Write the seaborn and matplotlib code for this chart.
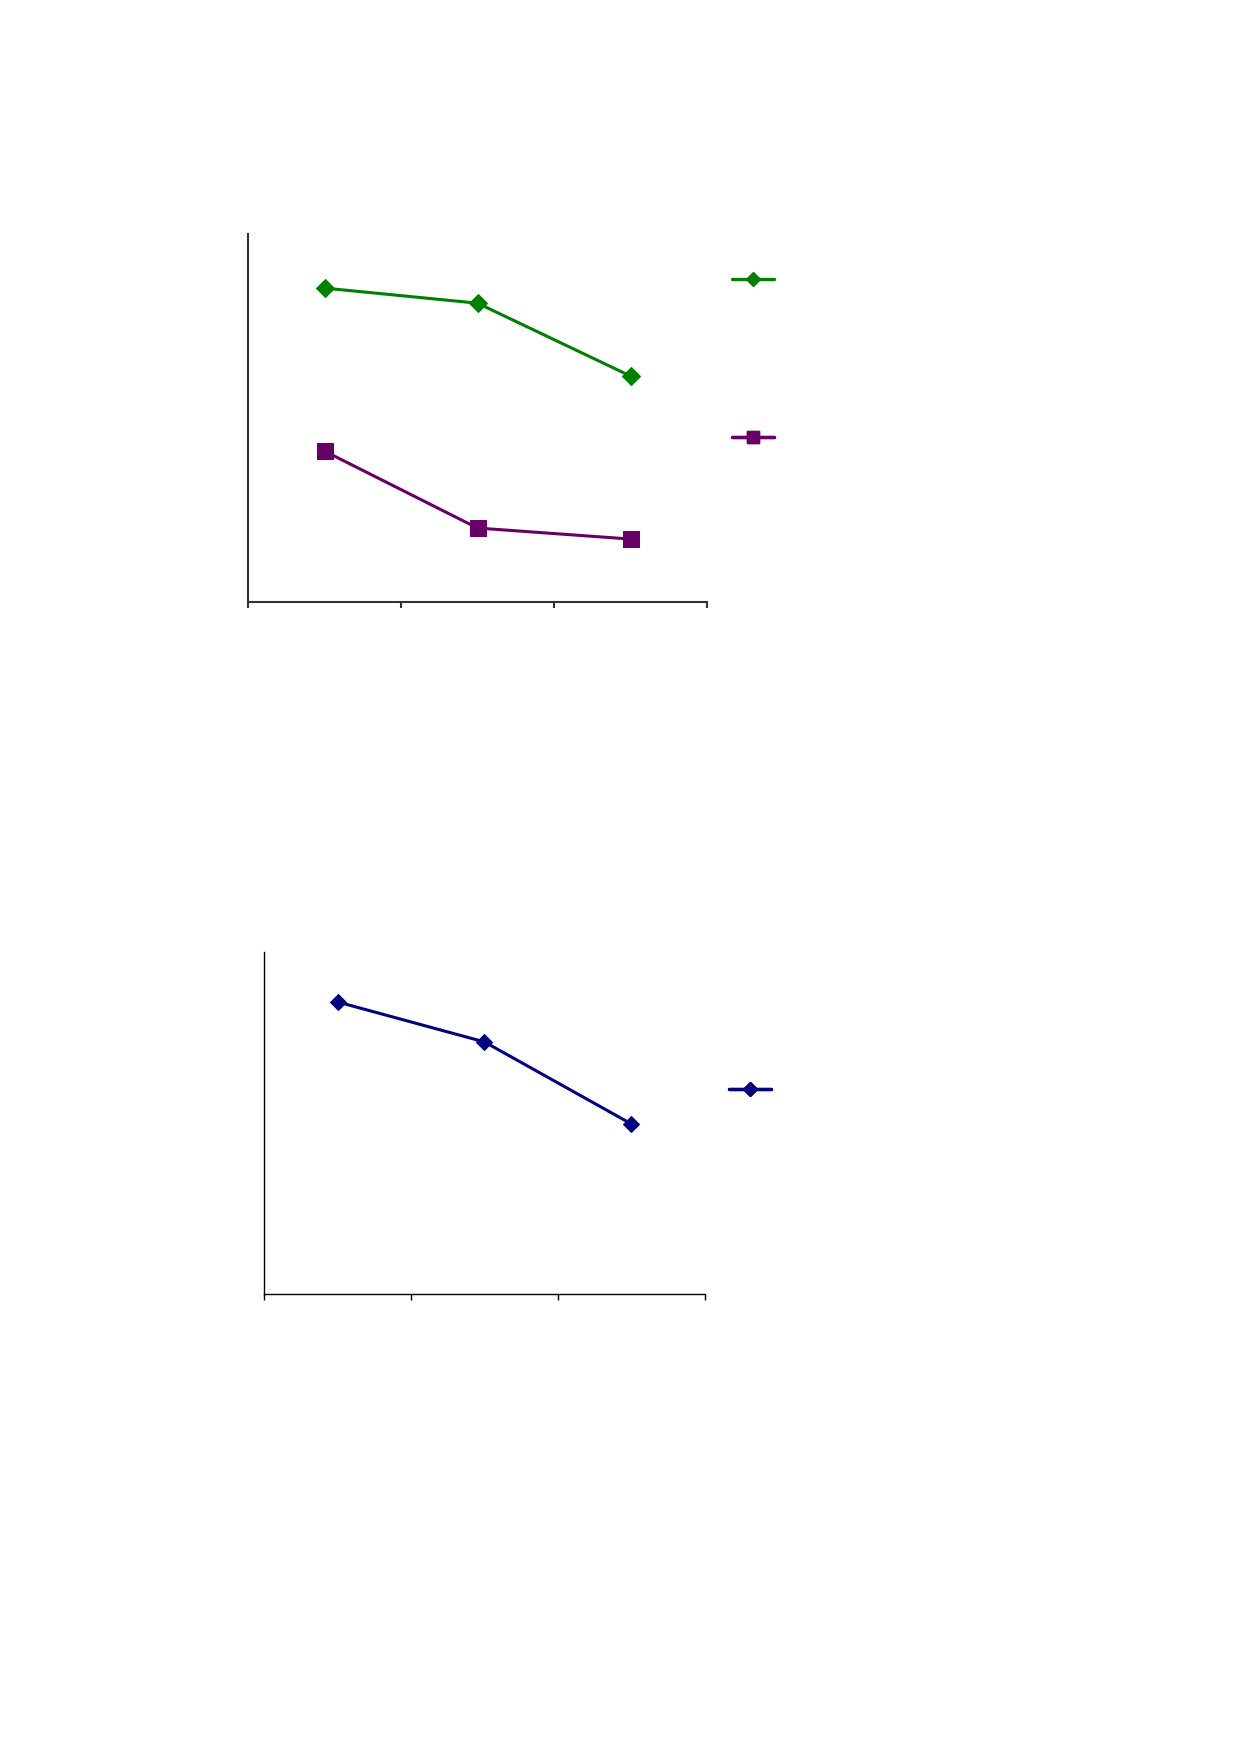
import matplotlib
matplotlib.use('Agg')
import matplotlib.pyplot as plt
import seaborn as sns
import pandas as pd
from matplotlib.lines import Line2D

# data (y axis has no labels, so a 0-100 scale is assumed)
groups = [1, 2, 3]
top_green = [85.3, 81.2, 61.4]
top_purple = [41.0, 20.1, 17.1]
bottom_blue = [85.4, 73.7, 49.7]

GREEN = '#008000'
PURPLE = '#660066'
NAVY = '#000080'

sns.set_style('white')
plt.rcParams['font.family'] = ['DejaVu Sans']

W, H = 1239, 1752
fig = plt.figure(figsize=(W / 100, H / 100), dpi=100)


def px_axes(left, top, right, bottom):
    return fig.add_axes([left / W, 1 - bottom / H, (right - left) / W, (bottom - top) / H])


def style_axes(ax, spine_color, spine_width):
    ax.set_xlim(0.5, 3.5)
    ax.set_ylim(0, 100)
    ax.set_xticks([0.5, 1.5, 2.5, 3.5])
    ax.set_xticklabels([])
    ax.set_yticks([])
    ax.set_xlabel('')
    ax.set_ylabel('')
    for side in ['top', 'right']:
        ax.spines[side].set_visible(False)
    for side in ['left', 'bottom']:
        ax.spines[side].set_color(spine_color)
        ax.spines[side].set_linewidth(spine_width)
    ax.tick_params(axis='x', direction='out', length=4.5, width=spine_width,
                   color=spine_color, bottom=True)


def add_key(ax, handle, x_px, y_px):
    leg = ax.legend([handle], [''], loc='center left', frameon=False,
                    bbox_to_anchor=(x_px / W, 1 - y_px / H),
                    bbox_transform=fig.transFigure, borderpad=0,
                    borderaxespad=0, handlelength=3.0, handletextpad=0)
    ax.add_artist(leg)


# top chart
ax1 = px_axes(248, 234, 707, 602)
df_top = pd.DataFrame({'group': groups, 'green': top_green, 'purple': top_purple})
sns.lineplot(data=df_top, x='group', y='green', ax=ax1, color=GREEN, lw=2.2,
             marker='D', markersize=9, markeredgecolor=GREEN, legend=False)
sns.lineplot(data=df_top, x='group', y='purple', ax=ax1, color=PURPLE, lw=2.2,
             marker='s', markersize=11, markeredgecolor=PURPLE, legend=False)
style_axes(ax1, '#333333', 1.5)

add_key(ax1, Line2D([], [], color=GREEN, lw=2.4, marker='D', markersize=7,
                    markeredgecolor=GREEN), 732, 280)
add_key(ax1, Line2D([], [], color=PURPLE, lw=2.4, marker='s', markersize=9,
                    markeredgecolor=PURPLE), 732, 438)

# bottom chart
ax2 = px_axes(264, 952, 705, 1294)
df_bot = pd.DataFrame({'group': groups, 'blue': bottom_blue})
sns.lineplot(data=df_bot, x='group', y='blue', ax=ax2, color=NAVY, lw=2.2,
             marker='D', markersize=8, markeredgecolor=NAVY, legend=False)
style_axes(ax2, 'black', 1.0)

add_key(ax2, Line2D([], [], color=NAVY, lw=2.4, marker='D', markersize=7,
                    markeredgecolor=NAVY), 729, 1090)

fig.savefig('out.png', dpi=100, facecolor='white')
